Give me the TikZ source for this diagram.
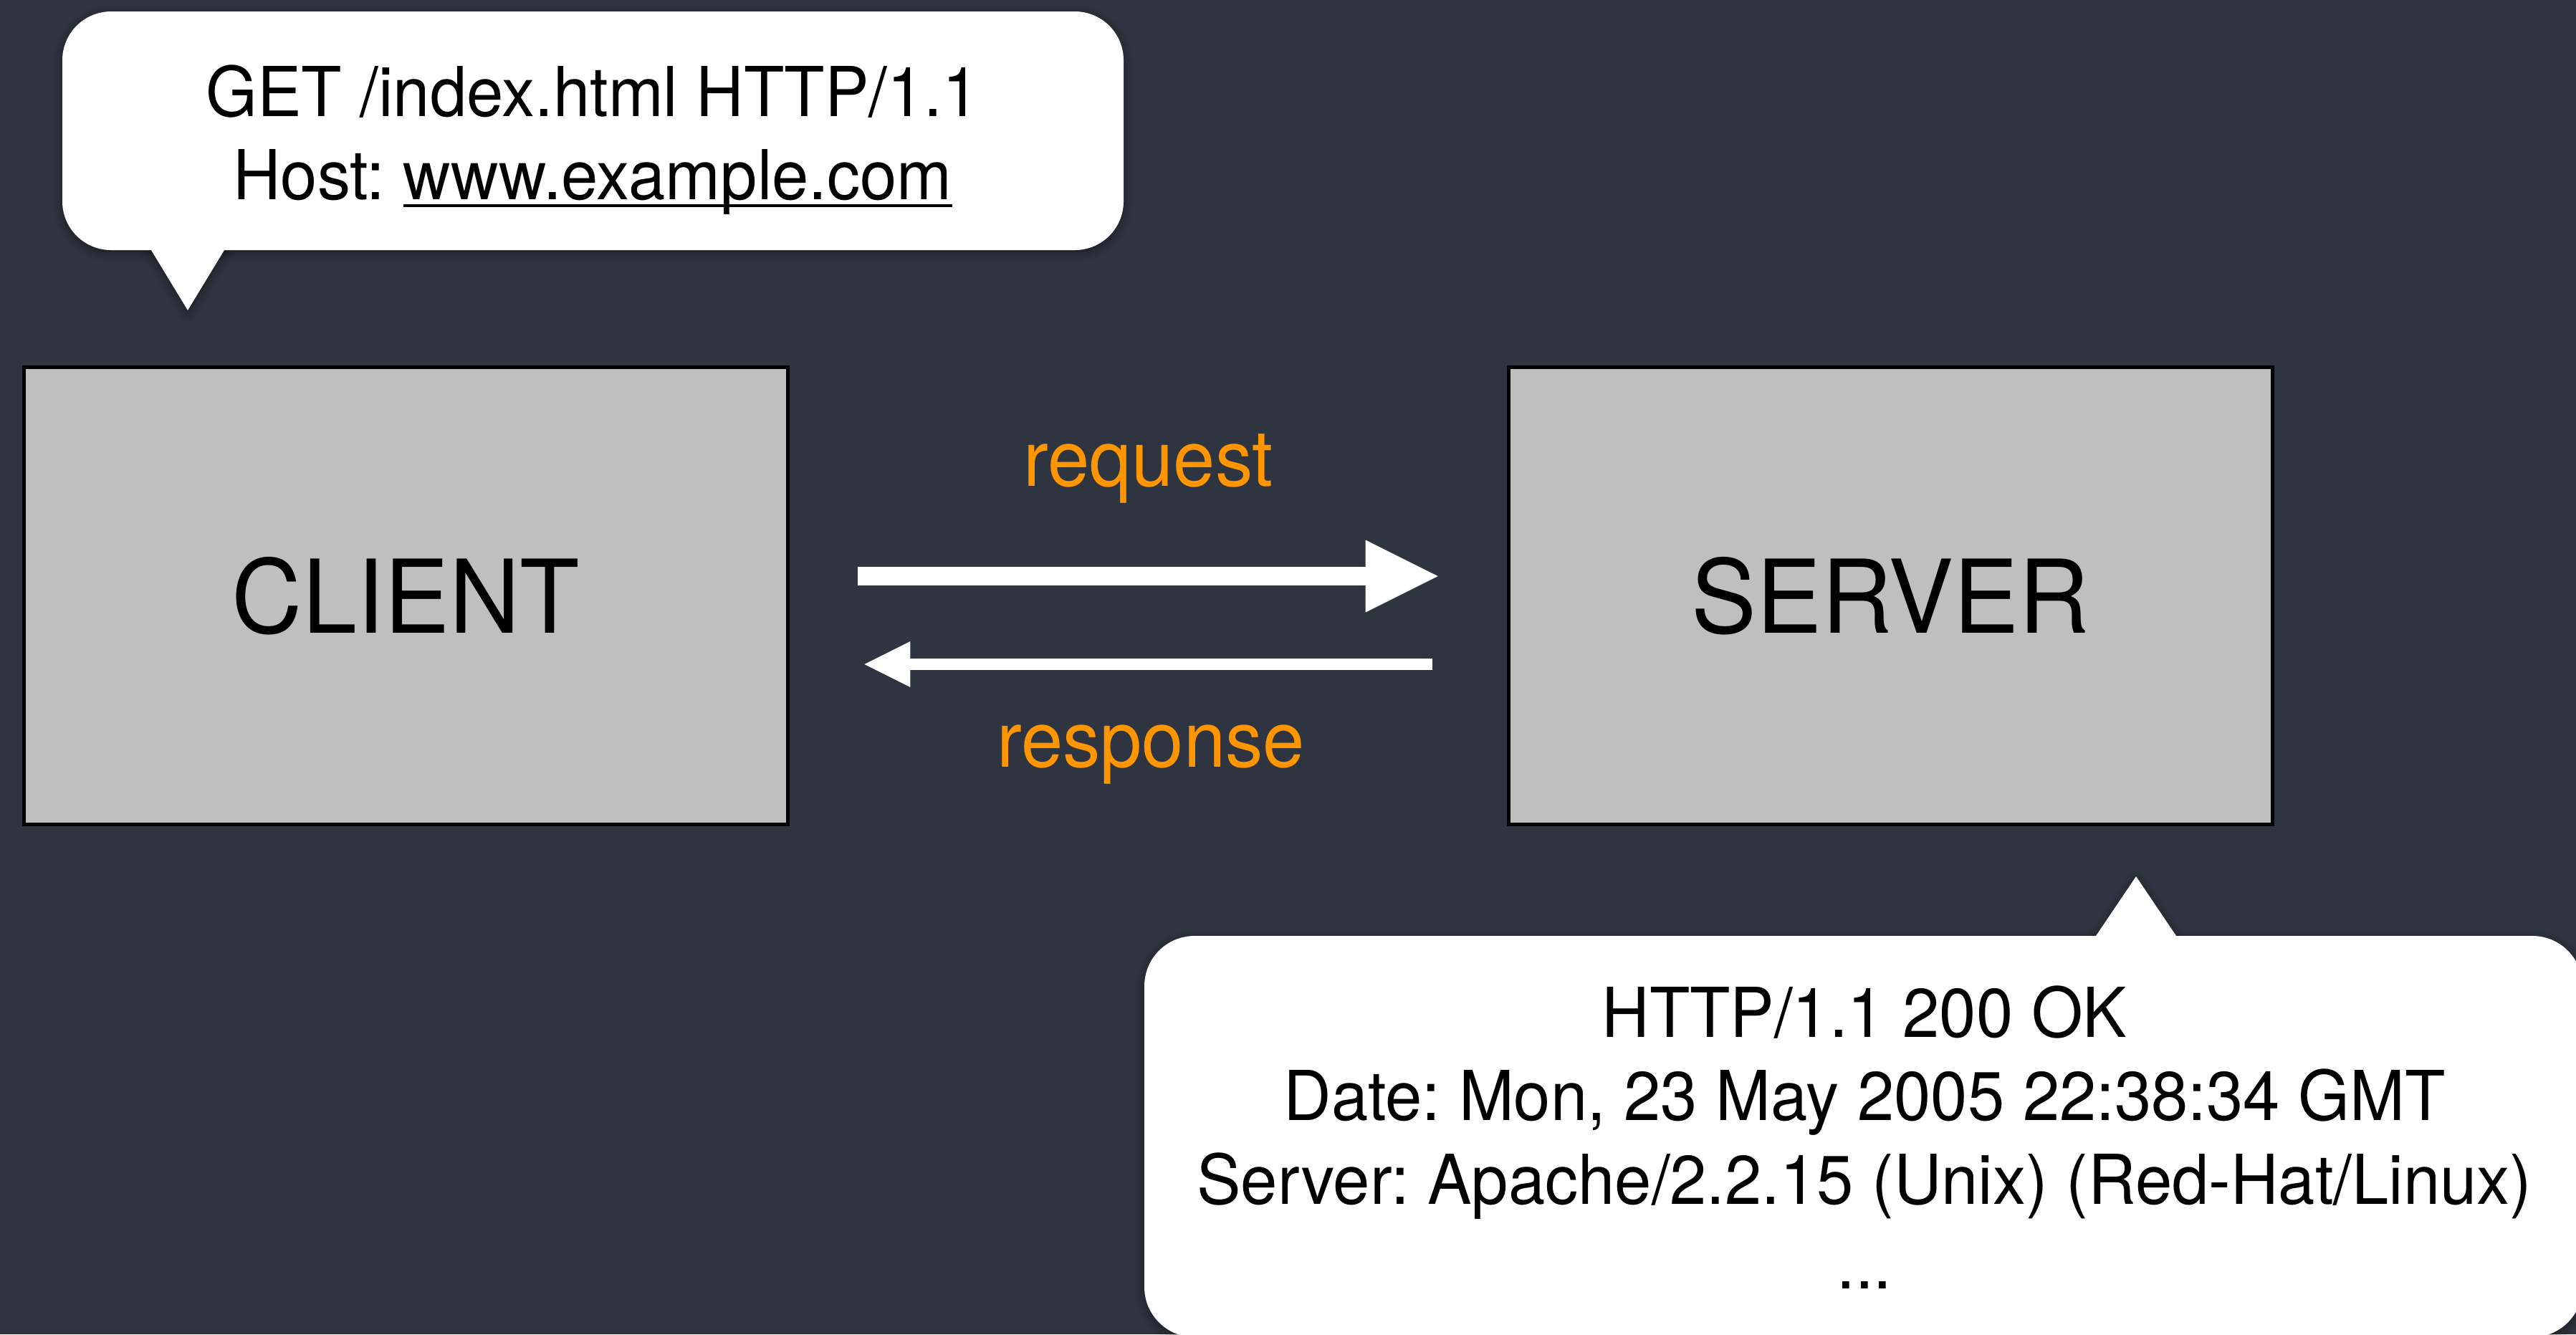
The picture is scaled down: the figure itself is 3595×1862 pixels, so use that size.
\documentclass[tikz,border=0pt]{standalone}
\usepackage{fontspec}
\setmainfont{TeX Gyre Heros}[FakeStretch=0.96]
\usetikzlibrary{arrows.meta,calc,shadows.blur}
\definecolor{bg}{HTML}{2E3440}
\definecolor{boxgray}{HTML}{BFBFBF}
\definecolor{lblorange}{HTML}{FF9500}
\newsavebox\ulbox
\newcommand\myul[1]{\sbox\ulbox{#1}\rlap{\rule[-0.11cm]{\wd\ulbox}{0.04cm}}\usebox\ulbox}
\frenchspacing
\begin{document}
\begin{tikzpicture}[x=0.01cm,y=-0.01cm,
  hostbox/.style={draw=black, line width=0.05cm, fill=boxgray, minimum width=10.66cm, minimum height=6.38cm, inner sep=0pt, font=\fontsize{1.42cm}{1.7cm}\selectfont},
  bubshadow/.style={blur shadow={shadow xshift=0pt, shadow yshift=-0.04cm, shadow blur radius=0.12cm, shadow opacity=45}},
  bubfill/.style={fill=white},
  msg/.style={anchor=base, inner sep=0pt, font=\fontsize{0.96cm}{1.16cm}\selectfont\frenchspacing, text=black},
  lbl/.style={anchor=base, inner sep=0pt, font=\fontsize{1.09cm}{1.3cm}\selectfont, text=lblorange},
  bigarrow/.style={draw=white, line width=0.26cm, -{Triangle[length=1.01cm,width=1.01cm,line width=0pt]}},
  smallarrow/.style={draw=white, line width=0.16cm, -{Triangle[length=0.64cm,width=0.64cm,line width=0pt]}}
]
\useasboundingbox (0,0) rectangle (3595,1862);
\fill[bg] (0,0) rectangle (3595,1862);

% request bubble
\path[bubshadow, rounded corners=0.68cm] (87,16) rectangle (1568,349);
\path[bubshadow] (205.5,340) -- (262,433) -- (318.5,340) -- cycle;
\fill[bubfill, rounded corners=0.68cm] (87,16) rectangle (1568,349);
\fill[bubfill] (205.5,340) -- (262,433) -- (318.5,340) -- cycle;
\node[msg] (req1) at (827,162) {GET /index.html HTTP/1.1};
\node[msg] (req2) at (827,278) {Host: \myul{www.example.com}};

% response bubble
\path[bubshadow, rounded corners=0.70cm] (1597,1306) rectangle (3604,1866);
\path[bubshadow] (2918.9,1315) -- (2981,1223) -- (3043.1,1315) -- cycle;
\fill[bubfill, rounded corners=0.70cm] (1597,1306) rectangle (3604,1866);
\fill[bubfill] (2918.9,1315) -- (2981,1223) -- (3043.1,1315) -- cycle;
\node[msg] (resp1) at (2602,1447) {HTTP/1.1 200 OK};
\node[msg] (resp2) at (2602,1563) {Date: Mon, 23 May 2005 22:38:34 GMT};
\node[msg] (resp3) at (2602,1680) {Server: Apache/2.2.15 (Unix) (Red-Hat/Linux)};
\node[msg] (resp4) at (2602,1798) {...};

% hosts
\node[hostbox] (client) at (566.5,831.5) {CLIENT};
\node[hostbox] (server) at (2638.5,831.5) {SERVER};

% arrows
\draw[bigarrow] ($(client.east)+(95,-27.5)$) -- ($(server.west)+(-96,-27.5)$);
\draw[smallarrow] ($(server.west)+(-104,95.5)$) -- ($(client.east)+(104,95.5)$);

\node[lbl] (reqlabel) at (1603,678) {request};
\node[lbl] (resplabel) at (1606,1070) {response};
\end{tikzpicture}
\end{document}
